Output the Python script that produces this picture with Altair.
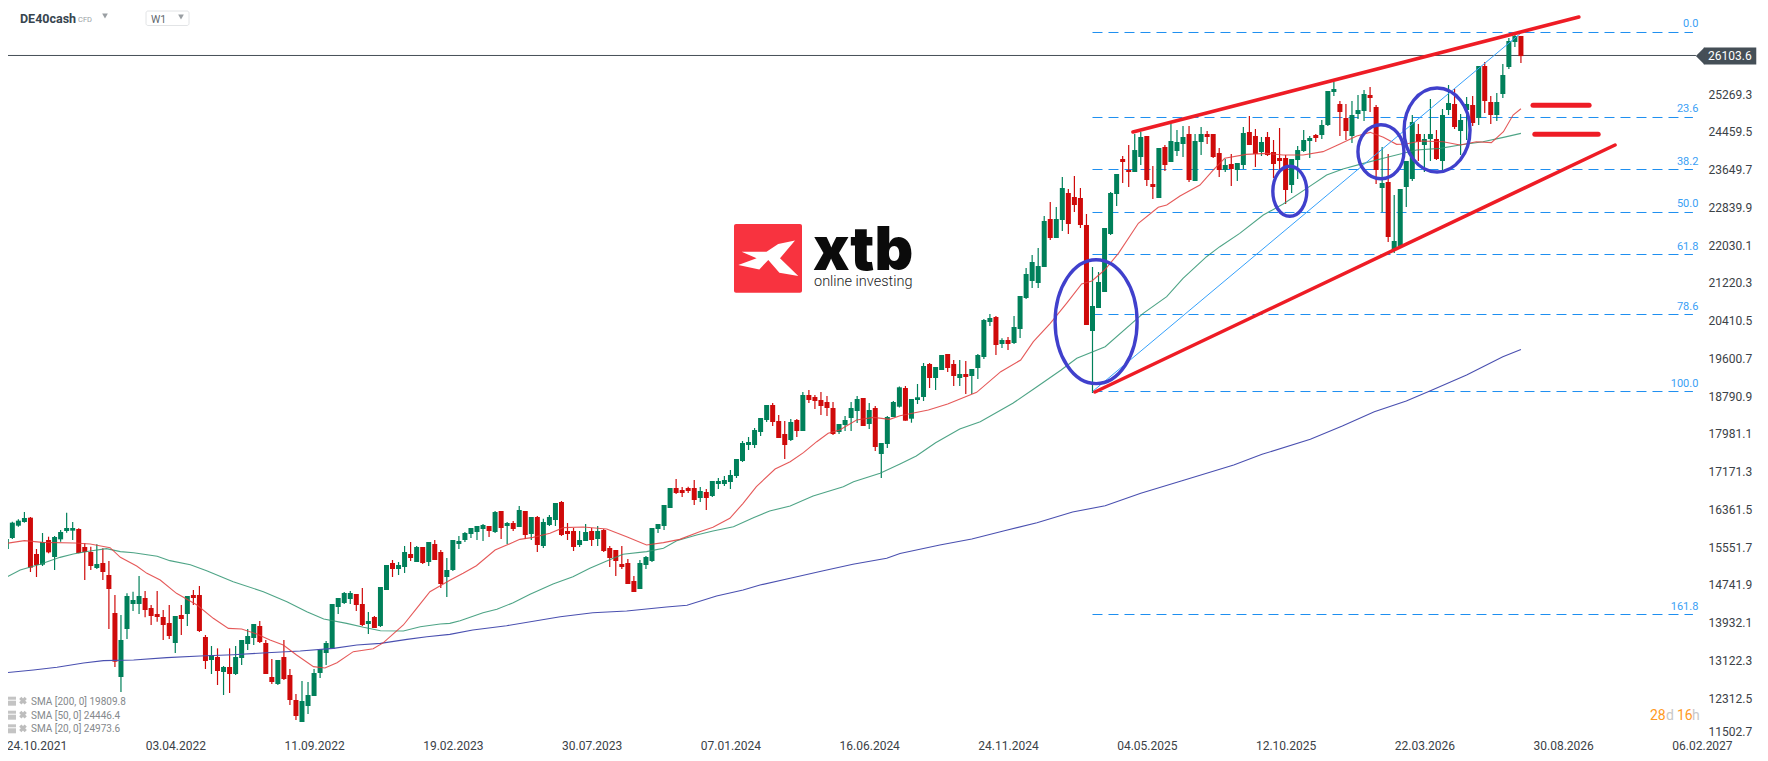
import altair as alt
import pandas as pd

# candle readings: body top / body bottom / wick high / wick low, one row per week
body_top = [
    15745,16096,16139,16196,16203,15424,15681,15724,15788,15896,
    15981,15981,15960,15574,15467,15209,15231,14973,14158,13579,
    14523,14437,14523,14480,14265,14137,14072,13944,14094,14115,
    14523,14544,14544,13643,13257,13214,13000,13000,13214,13579,
    13665,13922,13879,13515,12785,13150,13214,12828,12292,12271,
    12399,12871,13386,13515,14351,14480,14587,14587,14566,14351,
    13987,14072,14716,15188,15231,15188,15467,15424,15574,15574,
    15681,15638,15467,15080,15724,15703,15874,15981,16024,16046,
    16024,16325,16346,16089,16089,16367,16346,16217,16217,16110,
    16217,16518,16539,15917,15917,15724,15896,15917,15917,15938,
    15552,15509,15209,15231,14845,15231,15359,15981,16067,16475,
    16839,16839,16796,16839,16839,16775,16754,16990,16990,17011,
    17118,17461,17805,17826,18083,18341,18620,18620,18277,17998,
    18255,18298,18834,18834,18791,18727,18684,18555,18212,18298,
    18555,18748,18770,18512,18555,17805,18362,18684,18999,18984,
    18748,18785,19456,19499,19435,19692,19714,19499,19285,19285,
    19392,19692,20443,20486,20507,20014,20014,20293,20958,21430,
    21687,21601,22567,22609,22609,23274,23167,23081,23060,22481,
    20743,21258,22416,23167,23575,23896,23660,24089,24368,24390,
    23360,24132,24154,24283,24261,24368,24433,24283,24433,24433,
    24433,24025,23768,23789,23811,24454,24476,24390,24261,24368,
    24047,23918,23918,23896,24089,24304,24347,24411,24626,25355,
    25398,25076,24776,24840,24947,25291,25269,25012,23382,23403,
    22138,23253,23854,24690,24433,24325,24433,24325,24840,25098,
    25076,24733,25076,25055,25891,25891,25119,25119,25698,26428,
    26535,26535,
]
body_bottom = [
    15531,15767,16031,16110,15131,15188,15195,15459,15359,15738,
    15917,15924,15445,15467,15166,15123,15038,14673,13114,12785,
    13815,14351,14351,14222,14094,14072,13901,13665,13515,14029,
    14137,14480,13772,13129,13150,12914,12893,12850,12850,13193,
    13493,13622,13536,12850,12678,12635,12742,12292,11949,11820,
    12163,12378,12871,13300,13386,14287,14373,14458,14330,13901,
    13922,13836,13879,14651,15102,15102,15145,15338,15252,15231,
    15252,15295,14780,14930,15080,15638,15724,15853,15896,15960,
    15917,15896,15981,16024,15960,16003,15831,15853,15617,15595,
    16046,16153,15831,15853,15574,15617,15703,15724,15745,15488,
    15338,15274,15145,14780,14609,14673,15188,15274,15960,16024,
    16410,16732,16732,16775,16582,16625,16625,16668,16925,16925,
    16968,17097,17419,17762,17762,18041,18298,18255,17912,17762,
    17869,18062,18062,18727,18706,18598,18555,17998,18041,18191,
    18341,18491,18169,18212,17719,17569,17783,18362,18583,18283,
    18326,18727,18791,19199,19199,19370,19413,19242,19199,19220,
    19242,19413,19649,20400,19907,19928,19928,19950,20250,20915,
    21280,21237,21580,22202,22202,22588,22502,22910,22481,20336,
    20207,20700,21044,22288,23146,23832,23618,23618,23939,23446,
    23296,23060,23768,23832,24068,24218,23446,23425,24261,24368,
    23939,23660,23660,23682,23660,23768,24197,24004,24047,23982,
    23789,23854,23231,23339,23875,24068,24283,24347,24411,24626,
    25334,24905,24497,24390,24862,24926,25205,23660,23274,22223,
    21944,22030,23296,23467,24261,24197,24325,23896,23854,24947,
    24583,24497,24947,24669,24776,25141,24840,24840,25291,25870,
    26406,26104,
]
wick_high = [
    15810,16117,16167,16325,16217,15531,15874,15795,15810,15938,
    16310,16110,15974,15652,15581,15631,15545,15274,14544,14115,
    14580,14616,14952,14630,14330,14630,14222,14330,14094,14330,
    14523,14651,14737,13686,13450,13400,13021,13400,13450,13579,
    13815,13922,13987,13579,13171,13150,13579,12957,12421,12700,
    12678,12957,13386,13558,14351,14480,14609,14630,14566,14694,
    14180,14094,14716,15188,15295,15252,15595,15681,15595,15574,
    15681,15724,15509,15338,15724,15810,15896,15981,16024,16067,
    16024,16346,16346,16110,16132,16453,16346,16217,16239,16182,
    16260,16518,16561,16089,15981,15917,16067,15981,16024,15960,
    15595,15509,15595,15316,14952,15295,15381,15981,16067,16475,
    16839,17032,16861,16868,17011,16861,16818,16990,17054,17097,
    17225,17461,17848,17933,18126,18341,18620,18663,18405,18277,
    18319,18319,18899,18941,18834,18899,18813,18684,18212,18384,
    18684,18813,18770,18663,18598,17805,18384,18706,19016,19027,
    18748,19070,19521,19521,19435,19692,19714,19585,19585,19564,
    19392,19714,20464,20572,20529,20050,20078,20529,20958,21558,
    21837,21987,22674,22974,22867,23510,23253,23532,23274,22717,
    21580,21473,22416,23189,23575,23961,24197,24433,24476,24390,
    23746,24132,24197,24647,24518,24604,24604,24433,24583,24497,
    24433,24132,23896,24004,23811,24583,24819,24540,24368,24476,
    24304,24561,23982,23896,24175,24518,24390,24433,24733,25355,
    25548,25141,25076,25141,25269,25376,25441,25055,24154,24004,
    23124,23253,23854,24840,24647,24433,25183,24518,24969,25484,
    25398,24862,25226,25248,25891,25977,25248,25312,25934,26492,
    26578,26535,
]
wick_low = [
    15509,15745,16010,16096,15038,14930,15166,15438,15080,15688,
    15881,15724,15438,14866,15080,15102,14866,13815,13000,12464,
    13600,14201,14137,14065,13901,13972,13579,13600,13300,13686,
    13879,14330,13751,12957,12850,12614,12399,12442,12828,13043,
    13364,13472,13515,12850,12635,12614,12721,12185,11863,11820,
    11992,12378,12764,13043,13386,14137,14351,14351,14201,13879,
    13708,13836,13858,14651,14930,14973,15016,15274,15252,15209,
    15166,15295,14694,14501,15059,15531,15681,15767,15724,15703,
    15788,15874,15745,15638,15917,16003,15745,15724,15467,15552,
    16024,16024,15810,15724,15488,15574,15703,15595,15595,15467,
    15145,14952,15102,14780,14609,14673,15102,15252,15874,15938,
    16410,16711,16646,16732,16475,16539,16367,16646,16818,16882,
    16818,17054,17397,17654,17697,17955,18255,18169,17912,17461,
    17848,17933,18062,18663,18534,18405,18384,17976,17998,18062,
    18062,18234,18169,18105,17633,17054,17697,18362,18566,18283,
    18240,18641,18706,18984,18941,19370,19328,19027,19027,18856,
    18856,19177,19606,20314,19692,19842,19799,19928,20057,20893,
    21129,21129,21580,22159,22202,22352,22288,22760,22416,20336,
    18877,20700,21044,22266,22888,23382,23296,23618,23768,23317,
    23038,23060,23639,23832,23961,23939,23403,23425,23982,24218,
    23918,23510,23618,23317,23425,23682,24197,23725,23961,23961,
    23489,23660,22931,23167,23467,24047,23918,24261,24325,24604,
    25248,24390,24304,24240,24754,24712,24905,23360,22760,22116,
    21880,22009,22867,23425,23854,23618,23854,23875,23660,24840,
    24540,23982,24304,24604,24626,24883,24647,24712,25205,25827,
    26299,25956,
]
direction = (
    "UUUUDDUDUU" "UUDDDUDDDU" "UUUDDDDDUD" "UDDDUDUDUU" "UUDDDUDDDU"
    "UUUUUUUUDD" "UDUUDUUDUD" "UDDUUUUUUU" "DUDUDUDUDU" "UUDDDUUDUD"
    "DDDDDUUUUU" "UDDDDUDUUU" "UUUUUUUDDD" "UDUDDDDDUU" "UUDUDUUUUD"
    "UUUDUUDDUD" "UUUUDUDUUU" "UUUDUUDDDD" "UUUUUDDUUD" "DUDUUUDUUD"
    "DDUDUUDDUD" "DDDUUUUDUU" "UDDUUUDDUD" "UUUUDUUDUU" "DUUDUDDUUU"
    "UD"
)

# moving averages as (week, price)
sma20_weeks = [0,3,6,11.4,13.9,17.2,18.9,21.6,23.3,25.5,28.2,31.6,34.3,36.8,39,41.5,43.7,45.9,48.1,50.9,52.8,
               54.8,57.5,60.8,62.5,65.8,68,70.2,73.5,75.7,77.9,81,84,85.1,87.3,90.1,92.3,95.6,99.5,102.8,106.1,
               108.9,111.6,114.9,117.1,119.9,122.1,124.3,127.4,129.9,132.1,134.3,136.2,138.1,140.9,143.7,146.4,
               148.1,152.8,156,160.8,164.8,168.1,170.2,173,175.7,178.2,179.9,182,184.3,187.6,190.9,192.3,194.5,
               197.8,200,201.9,205.5,208.8,211.6,214.9,218.2,221,223.8,226,228.2,230.4,232,234.3,238.1,240.9,
               243.6,246.1,248.1,249.7,251]
sma20_values = [15652,15710,15674,15660,15638,15560,15352,15166,15009,14866,14580,14330,14044,13829,13815,13708,
                13579,13472,13257,13007,12978,13093,13329,13393,13522,13901,14258,14616,14860,15009,15173,15510,
                15674,15738,15781,15867,15989,16003,15960,15795,15617,15667,15738,15903,15996,16189,16510,16868,
                17247,17404,17597,17833,18012,18083,18298,18355,18312,18391,18512,18641,18892,19334,19585,19978,
                20372,20801,21215,21280,21515,21873,22517,22860,22910,23103,23339,23660,23911,23996,24018,23982,
                23982,24054,24218,24390,24468,24361,24211,24218,24283,24268,24197,24268,24247,24483,24840,24974]
sma50_weeks = [0,2.3,5.6,8.9,11.1,13.9,16.6,18.9,21.1,25,27.1,30.5,33.2,37.6,42.6,46.5,49.8,52.6,56.4,59.2,62,
               65.8,68.6,71.9,73.5,75.2,79,81.3,84,86.8,90.6,93.9,96.7,99.5,102.2,106.1,108.9,111.1,114.4,117.1,
               120.5,123.8,126.5,129.9,133.7,138.7,140.4,144.8,148.1,150.8,154,158,161.4,166.8,170.8,174.8,
               177.4,182.1,188.4,192.3,195,198.9,201.1,204.4,208.3,211.6,215.5,218.8,221.5,224.9,228.2,231.5,
               233.7,237.6,240.9,244.7,248.1,251]
sma50_values = [14923,15080,15202,15352,15424,15488,15538,15474,15452,15374,15281,15195,15066,14830,14616,14401,
                14187,14029,13936,13851,13779,13772,13865,13922,13936,13993,14164,14237,14379,14559,14780,14937,
                15117,15273,15417,15474,15545,15710,15831,15917,16010,16203,16346,16453,16668,16868,16975,17154,
                17354,17526,17811,18105,18261,18656,19012,19370,19621,19870,20586,20944,21337,21801,22016,22302,
                22695,22931,23267,23553,23682,23803,23911,24018,24089,24125,24197,24268,24361,24446]
sma200_weeks = [0,4.5,8.4,12.8,16.1,21.1,26.6,32.1,37.6,43.2,48.7,54.2,58.1,62,66.4,69.7,73.5,77.3,82.9,91.8,
                97.2,102.8,109.4,112.8,117.7,122.1,124.9,129.9,135.4,140.3,145.9,148.1,154.7,160,165.4,170.8,
                176.7,182.1,188,194.7,203.4,208.1,216.1,221.4,226.7,232,236,242,248,251]
sma200_values = [12878,12936,12993,13086,13136,13150,13200,13236,13264,13307,13343,13400,13472,13507,13593,13650,
                 13700,13793,13885,14079,14164,14201,14287,14323,14523,14651,14758,14902,15065,15203,15331,15434,
                 15616,15745,15923,16095,16324,16459,16725,16989,17332,17562,17884,18169,18476,18705,18926,19263,
                 19656,19810]

# axes
price_ticks = [25269.3,24459.5,23649.7,22839.9,22030.1,21220.3,20410.5,19600.7,18790.9,17981.1,17171.3,
               16361.5,15551.7,14741.9,13932.1,13122.3,12312.5,11502.7]
date_weeks = [5,28,51,74,97,120,143,166,189,212,235,258,281]
date_labels = ["24.10.2021","03.04.2022","11.09.2022","19.02.2023","30.07.2023","07.01.2024","16.06.2024",
               "24.11.2024","04.05.2025","12.10.2025","22.03.2026","30.08.2026","06.02.2027"]

# fibonacci retracement
fib_labels = ["0.0","23.6","38.2","50.0","61.8","78.6","100.0","161.8"]
fib_prices = [26610,24787,23671,22749,21848,20561,18909,14126]

last_price = 26103.6
line_level = 26117
GREEN = "#00805a"
RED = "#cf0a0a"
DARK = "#454f57"
TEXT = "#3b4247"

x_scale = alt.Scale(domain=[0.28, 282.0], nice=False, zero=False, padding=0)
y_scale = alt.Scale(domain=[11412.6, 27135.5], nice=False, zero=False)

label_expr = "{" + ",".join(f"'{w}':'{d}'" for w, d in zip(date_weeks, date_labels)) + "}[datum.value]"
x_axis = alt.Axis(
    values=date_weeks, labelExpr=label_expr, orient="bottom", grid=False, domain=False, ticks=False,
    labelFont="Roboto", labelFontSize=12, labelColor=TEXT, labelPadding=4, labelBaseline="middle",
    labelOverlap=False, labelFlush=False, labelBound=False)
y_axis = alt.Axis(
    values=price_ticks, format=".1f", orient="right", grid=False, domain=False, ticks=False,
    labelFont="Roboto", labelFontSize=12, labelColor=TEXT, labelPadding=0, labelAlign="left",
    labelOverlap=False, labelFlush=False, labelBound=False,
    labelOffset={"expr": "datum.value < 12000 ? -5 : -1"})


def xq(field):
    return alt.X(field, scale=x_scale, axis=x_axis, title=None)


def yq(field):
    return alt.Y(field, scale=y_scale, axis=y_axis, title=None)


X = xq("week:Q")
Y = yq("price:Q")
X2 = alt.X2("week2:Q")
Y2 = alt.Y2("price2:Q")

candles = pd.DataFrame({
    "week": range(len(body_top)),
    "top": body_top,
    "bottom": body_bottom,
    "high": wick_high,
    "low": wick_low,
    "color": [GREEN if d == "U" else RED for d in direction],
})

wicks = alt.Chart(candles).mark_rule(strokeWidth=1.2).encode(
    x=X,
    y=yq("high:Q"),
    y2="low:Q",
    color=alt.Color("color:N", scale=None),
)

bodies = alt.Chart(candles).mark_bar(size=5, orient="vertical").encode(
    x=X,
    y=yq("top:Q"),
    y2="bottom:Q",
    color=alt.Color("color:N", scale=None),
)


def average(weeks, values, color, opacity=0.85):
    frame = pd.DataFrame({"week": weeks, "price": values})
    return alt.Chart(frame).mark_line(color=color, strokeWidth=1.1, opacity=opacity).encode(x=X, y=Y)


sma20 = average(sma20_weeks, sma20_values, "#e13c3c")
sma50 = average(sma50_weeks, sma50_values, "#2f9471")
sma200 = average(sma200_weeks, sma200_values, "#4a50b0", 1)

fib = pd.DataFrame({"label": fib_labels, "price": fib_prices, "week": 180.0, "week2": 279.5, "text_week": 280.4})
fib_lines = alt.Chart(fib).mark_rule(color="#1e8ff0", strokeWidth=1, strokeDash=[10, 6]).encode(x=X, x2=X2, y=Y)
fib_text = alt.Chart(fib).mark_text(font="Roboto", fontSize=11, color="#3aa0f5", align="right", dy=-8).encode(
    x=xq("text_week:Q"), y=Y, text="label:N")

diagonal = alt.Chart(pd.DataFrame({"week": [180.0], "price": [18909], "week2": [251.0], "price2": [26599]})).mark_rule(
    color="#35a0fb", strokeWidth=1).encode(x=X, y=Y, x2=X2, y2=Y2)

trend_lines = pd.DataFrame({
    "week": [186.7, 180.4], "price": [24476, 18899],
    "week2": [260.6, 266.6], "price2": [26942, 24197],
})
trends = alt.Chart(trend_lines).mark_rule(color="#ee1c25", strokeWidth=3.5, strokeCap="round").encode(
    x=X, y=Y, x2=X2, y2=Y2)

level_bars = pd.DataFrame({"week": [253.0, 253.3], "week2": [262.3, 263.8], "price": [25048, 24426]})
levels = alt.Chart(level_bars).mark_rule(color="#ee1c25", strokeWidth=5, strokeCap="round").encode(x=X, x2=X2, y=Y)


def ellipse(week, price, rx, ry):
    a = ry / rx
    k = 0.5523
    path = (f"M-1,0C-1,{-k*a:.3f} {-k},{-a:.3f} 0,{-a:.3f}C{k},{-a:.3f} 1,{-k*a:.3f} 1,0"
            f"C1,{k*a:.3f} {k},{a:.3f} 0,{a:.3f}C{-k},{a:.3f} -1,{k*a:.3f} -1,0Z")
    frame = pd.DataFrame({"week": [week], "price": [price]})
    return alt.Chart(frame).mark_point(shape=path, size=(2 * rx) ** 2, filled=False, stroke="#4040cc",
                                       strokeWidth=3.4, opacity=1).encode(x=X, y=Y)


circles = [ellipse(180.6, 20407, 41, 62), ellipse(212.7, 23204, 17, 25),
           ellipse(227.8, 24053, 23, 27), ellipse(237.1, 24519, 33, 42)]

# current price line and its tag
price_line = alt.Chart(pd.DataFrame({"price": [line_level], "week": [0.28], "week2": [280.0]})).mark_rule(
    color=DARK, strokeWidth=1).encode(x=X, x2=X2, y=Y)
tag_box = alt.Chart(pd.DataFrame({"week": [281.3], "week2": [290.0], "price": [26290], "price2": [25925]})).mark_rect(
    color=DARK).encode(x=X, x2=X2, y=Y, y2=Y2)
tag_arrow = alt.Chart(pd.DataFrame({"week": [280.7], "price": [26107]})).mark_point(
    shape="M0.5,-1L-0.5,0L0.5,1Z", size=289, filled=True, color=DARK, opacity=1).encode(x=X, y=Y)
tag_text = alt.Chart(pd.DataFrame({"week": [282.0], "price": [26107], "label": [f"{last_price:.1f}"]})).mark_text(
    font="Roboto", fontSize=12, color="white", align="left").encode(x=X, y=Y, text="label:N")

one_row = pd.DataFrame({"a": [0]})


def px(x, y):
    # page pixel of the screenshot -> plot pixel
    return {"x": alt.value(x - 8), "y": alt.value(y - 8)}


def note(text, x, y, **style):
    style.setdefault("font", "Roboto")
    style.setdefault("align", "left")
    return alt.Chart(one_row).mark_text(**style).encode(text=alt.value(text), **px(x, y))


def box(x, x2, y, y2, **style):
    return alt.Chart(one_row).mark_rect(**style).encode(
        x=alt.value(x - 8), x2=alt.value(x2 - 8), y=alt.value(y - 8), y2=alt.value(y2 - 8))


def arrow_down(x, y):
    return alt.Chart(one_row).mark_point(shape="triangle-down", size=32, filled=True, color="#9a9fa3", opacity=1).encode(**px(x, y))


header = [
    note("DE40cash", 20, 19, fontSize=12.5, fontWeight="bold", color="#37454f"),
    note("CFD", 78, 19.5, fontSize=7.5, color="#9aa0a5"),
    arrow_down(105, 16),
    box(146, 189, 11, 25.5, color="white", stroke="#e2e4e6", strokeWidth=1, cornerRadius=2),
    note("W1", 151, 19.5, fontSize=10.5, color="#5f686e"),
    arrow_down(181, 17),
]

legend = []
for row_y, text in zip([701.7, 715.7, 729.3], ["SMA [200, 0] 19809.8", "SMA [50, 0] 24446.4", "SMA [20, 0] 24973.6"]):
    legend.append(box(6, 16, row_y - 5, row_y + 4, color="#c4c4c4"))
    legend.append(box(6, 16, row_y - 2, row_y - 1, color="#ffffff"))
    legend.append(alt.Chart(one_row).mark_point(shape="cross", size=60, angle=45, filled=True, color="#bdbdbd", opacity=1)
                  .encode(**px(23, row_y - 1)))
    legend.append(note(text, 31, row_y, fontSize=10, color="#85898c"))

countdown = [
    note("28", 1650, 716.3, fontSize=14, color="#ff9a1f"),
    note("d", 1666, 716.3, fontSize=14, color="#c8c8c8"),
    note("16", 1677, 716.3, fontSize=14, color="#ff9a1f"),
    note("h", 1692, 716.3, fontSize=14, color="#c8c8c8"),
]

logo = [
    box(734, 802, 224, 292.7, color="#f8333f", cornerRadius=2),
    alt.Chart(one_row).mark_point(
        shape="M-.89,-.22L-.06,-.22L.33,-.48L.89,-.59L.39,0L1,.59L.37,.48L0,.06L-.3,.37L-1,.22L-.39,0Z",
        size=3600, filled=True, color="white", opacity=1).encode(**px(768.3, 258.3)),
    note("xtb", 813, 270, fontSize=60, fontWeight=900, font="Inter", color="#0b0b0b", baseline="alphabetic"),
    note("online investing", 814, 281.7, fontSize=14.5, color="#222222", fontWeight=300),
]

chart = alt.layer(
    fib_lines, price_line, wicks, bodies, sma200, sma50, sma20, diagonal, *circles, trends, levels, fib_text,
    tag_box, tag_arrow, tag_text, *logo, *header, *legend, *countdown,
).properties(
    width=1700,
    height=733,
    padding={"left": 0, "top": 0, "right": 52, "bottom": 12},
    autosize=alt.AutoSizeParams(type="none"),
    background="white",
).configure_view(stroke=None)

chart.save("out.html", embed_options={"renderer": "svg", "actions": False})
